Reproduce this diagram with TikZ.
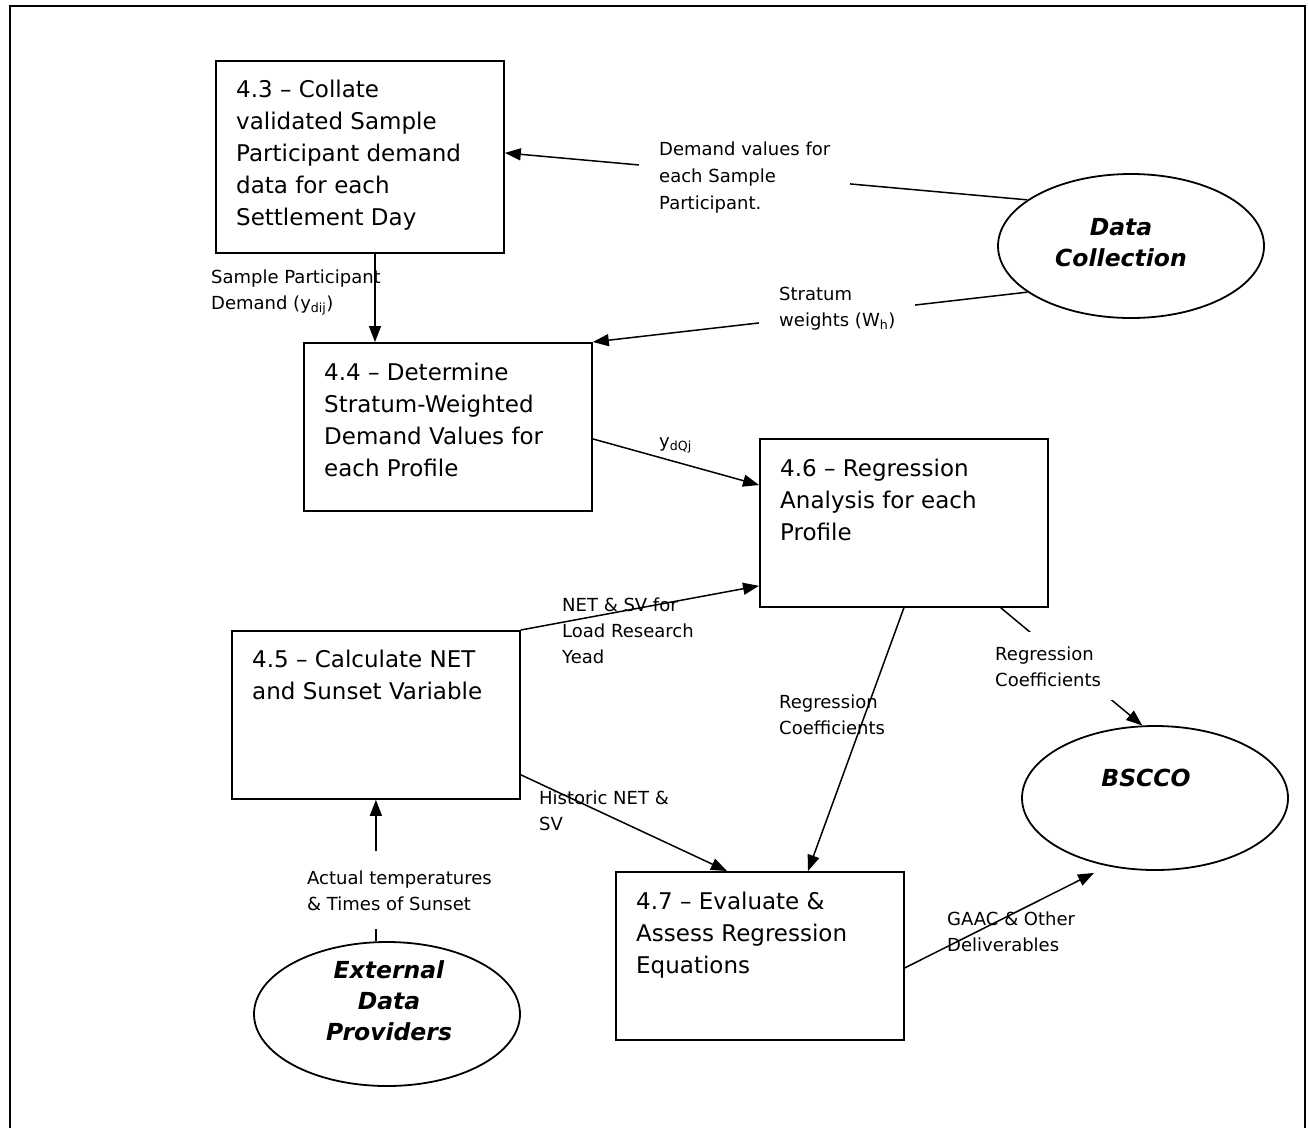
\documentclass[tikz,border=0pt]{standalone}
\usepackage{fontspec}
\setmainfont{DejaVu Sans}[ItalicFont={DejaVu Sans Oblique},BoldFont={DejaVu Sans Bold},BoldItalicFont={DejaVu Sans Bold Oblique}]
\usetikzlibrary{arrows.meta,shapes.geometric,calc}

\newcommand{\boxfont}{\fontsize{23}{32}\selectfont}
\newcommand{\lblfont}{\fontsize{18}{26}\selectfont}
\newcommand{\ovalfont}{\fontsize{23.5}{31}\selectfont\bfseries\itshape}

\begin{document}
\begin{tikzpicture}[x=1pt,y=1pt,yscale=-1,xscale=1,
		procbox/.style={draw, line width=1.8pt, anchor=north west, minimum width=288pt, minimum height=168pt, inner sep=0pt},
		boxtext/.style={anchor=base west, inner sep=0pt, align=left, font=\boxfont},
		ovalnode/.style={draw, ellipse, line width=1.8pt, minimum width=266pt, minimum height=144pt, inner sep=0pt},
		ovaltext/.style={anchor=base, inner sep=0pt, align=center, font=\ovalfont},
		flowlabel/.style={anchor=base west, inner sep=0pt, align=left, font=\lblfont},
		coverlabel/.style={flowlabel, fill=white, inner xsep=20pt, inner ysep=14pt},
		flow/.style={line width=1.5pt, -{Triangle[length=16pt,width=12pt]}}]
		\useasboundingbox (0,0) rectangle (1309,1128);

		% Outer frame, open at the bottom
		\draw[line width=1.8pt] (10,1128) -- (10,6) -- (1305,6) -- (1305,1128);

		% Process boxes
		\node[procbox, minimum height=192pt] (p43) at (215,60) {};
		\node[procbox] (p44) at (303,342) {};
		\node[procbox] (p45) at (231,630) {};
		\node[procbox] (p46) at (759,438) {};
		\node[procbox] (p47) at (615,871) {};

		% Texts inside the boxes (placed by the baseline of their last line)
		\node[boxtext] (t43) at ($(p43.north west)+(21,165)$) {4.3 – Collate\\validated Sample\\Participant demand\\data for each\\Settlement Day};
		\node[boxtext] (t44) at ($(p44.north west)+(21,134)$) {4.4 – Determine\\Stratum-Weighted\\Demand Values for\\each Profile};
		\node[boxtext] (t45) at ($(p45.north west)+(21,69)$) {4.5 – Calculate NET\\and Sunset Variable};
		\node[boxtext] (t46) at ($(p46.north west)+(21,102)$) {4.6 – Regression\\Analysis for each\\Profile};
		\node[boxtext] (t47) at ($(p47.north west)+(21,102)$) {4.7 – Evaluate \&\\Assess Regression\\Equations};

		% External entities
		\node[ovalnode] (datacoll) at (1131,246) {};
		\node[ovaltext] (tdatacoll) at (1121,266) {Data\\Collection};
		\node[ovalnode] (bscco) at (1155,798) {};
		\node[ovaltext] (tbscco) at (1146,786) {BSCCO};
		\node[ovalnode] (edp) at (387,1014) {};
		\node[ovaltext] (tedp) at (389,1040) {External\\Data\\Providers};

		% Flows between boxes and entities
		\draw[flow] (datacoll.156) -- ($(p43.east)+(0,-4)$);
		\draw[flow] (datacoll.204) -- (p44.north east);
		\draw[flow] ($(p43.south west)+(160,0)$) coordinate (c43) -- (c43 |- p44.north);
		\draw[flow] ($(p44.east)+(0,12)$) -- ($(p46.north west)+(0,47)$);
		\draw[flow] (p45.north east) -- ($(p46.south west)+(0,-22)$);
		\draw[flow] ($(p45.south east)+(0,-25)$) -- ($(p47.north west)+(112,0)$);
		\draw[flow] (p46.south) -- ($(p47.north west)+(193,0)$);
		\draw[flow] ($(p46.south east)+(-48,0)$) -- (bscco.100);
		\draw[flow] ($(p47.east)+(0,12)$) -- ($(bscco.south)+(-61,2)$);
		\draw[flow] (edp.north -| p45.south) -- (p45.south);

		% Flow labels (white ones hide part of their line)
		\node[coverlabel, font=\fontsize{18}{27}\selectfont] (ldemand) at (639,209) {Demand values for\\each Sample\\Participant.};
		\node[coverlabel] (lstratum) at (759,326) {Stratum\\weights (W\textsubscript{h})};
		\node[flowlabel] (lsample) at (211,309) {Sample Participant\\Demand (y\textsubscript{dij})};
		\node[flowlabel] (lydq) at (659,447) {y\textsubscript{dQj}};
		\node[flowlabel] (lnetsv) at (562,663) {NET \& SV for\\Load Research\\Yead};
		\node[flowlabel] (lregmid) at (779,734) {Regression\\Coefficients};
		\node[coverlabel] (lregright) at (975,686) {Regression\\Coefficients};
		\node[flowlabel] (lhist) at (539,830) {Historic NET \&\\SV};
		\node[coverlabel, inner ysep=19pt] (lactual) at (287,910) {Actual temperatures\\\& Times of Sunset};
		\node[flowlabel] (lgaac) at (947,951) {GAAC \& Other\\Deliverables};
\end{tikzpicture}
\end{document}
